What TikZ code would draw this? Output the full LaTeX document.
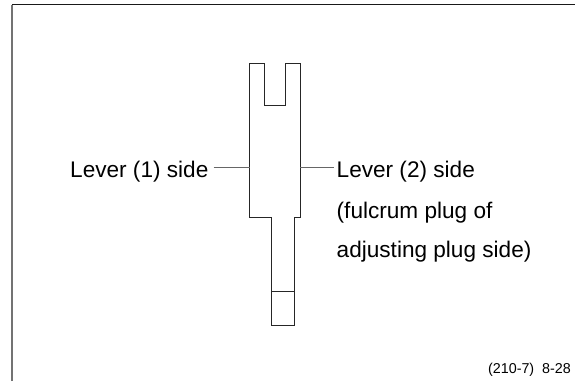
\documentclass[tikz,border=0pt]{standalone}
\usepackage{fontspec}
\setmainfont{Liberation Sans}
\usepackage{tikz}

\tikzset{
	label text/.style={inner sep=0pt,anchor=base west,font=\fontsize{22.6}{22.6}\selectfont},
	part line/.style={draw=black!85,line width=1pt},
	leader/.style={draw=black!60,line width=1pt},
	frame line/.style={line width=1.2pt}
}

\begin{document}
\begin{tikzpicture}[x=1pt,y=-1pt]
		\useasboundingbox (0,0) rectangle (575,381);
		\draw[frame line,draw=black!55] (12,381) -- (12,4.5);
		\draw[frame line,draw=black!90] (12,4.5) -- (575,4.5);
		% the part
		\draw[part line] (249.5,63) -- (264,63) -- (264,105) -- (285,105) -- (285,63) -- (300,63)
			-- (300,217) -- (294,217) -- (294,325) -- (271,325) -- (271,217) -- (249.5,217) -- cycle;
		\coordinate (left side) at (249.5,167);
		\coordinate (right side) at (300,167);
		\coordinate (stem left) at (271,291);
		\coordinate (stem right) at (294,291);
		\draw[part line] (stem left) -- (stem right);
		% labels
		\node[label text] (lever one) at (70,177.5) {Lever (1) side};
		\node[label text] (lever two) at (336.5,177.5) {Lever (2) side};
		\node[label text] (fulcrum) at (336.5,218) {(fulcrum plug of};
		\node[label text] (adjusting) at (336.5,257) {adjusting plug side)};
		\node[inner sep=0pt,anchor=base east,font=\fontsize{14.3}{14.3}\selectfont] (fig number) at (571,373) {(210-7)\ \ 8-28};
		\draw[leader] ([xshift=5pt]lever one.east |- left side) -- (left side);
		\draw[leader] (right side) -- ([xshift=-2.5pt]lever two.west |- right side);
	\end{tikzpicture}
\end{document}
